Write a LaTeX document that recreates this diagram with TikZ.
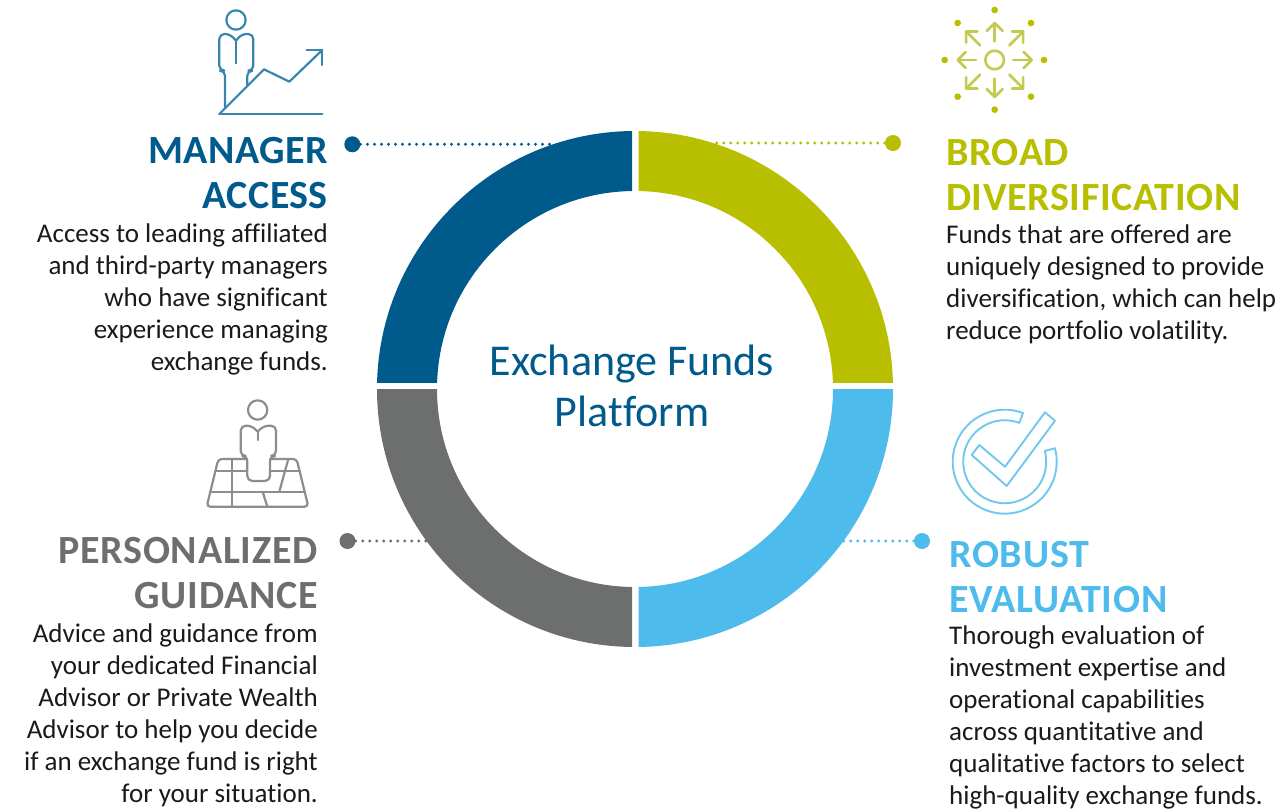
\documentclass[tikz,border=0pt]{standalone}
\usepackage{fontspec}
\setmainfont[Ligatures=NoCommon]{Carlito}
\definecolor{cblue}{HTML}{005A8C}
\definecolor{cgreen}{HTML}{B7BF00}
\definecolor{ccyan}{HTML}{4DBBEB}
\definecolor{cgray}{HTML}{6D6F6E}
\definecolor{ctext}{HTML}{1A1A1A}
\definecolor{iblue}{HTML}{3A85AD}
\definecolor{igreen}{HTML}{C3CA50}
\definecolor{igray}{HTML}{8C8E8D}
\definecolor{icyan}{HTML}{72C8EC}
\tikzset{
  head/.style={inner sep=0pt,font=\fontsize{40}{45}\selectfont\bfseries\addfontfeature{LetterSpace=#1}},
  head/.default=1,
  bodytext/.style={inner sep=0pt,text=ctext,font=\fontsize{27}{32}\selectfont},
  bigdot/.style={circle,inner sep=0pt,minimum size=16pt},
  dots/.style={line width=3.2pt,line cap=round,dash pattern=on 0pt off 7pt},
  iconline/.style={line width=2.2pt,line cap=round,line join=round},
}
\newcommand{\quadrant}[3]{%
  \begin{scope}
    \clip #1;
    \fill[#2,even odd rule] (635,389) circle[radius=258] (635,389) circle[radius=#3];
  \end{scope}}
\begin{document}
\begin{tikzpicture}[x=1pt,y=-1pt]
\useasboundingbox (0,0) rectangle (1278,809);
% ring
\quadrant{(370,120) rectangle (632,382)}{cblue}{198}
\quadrant{(638.5,120) rectangle (900,382)}{cgreen}{198}
\quadrant{(370,389) rectangle (632,655)}{cgray}{198}
\quadrant{(638.5,389) rectangle (900,655)}{ccyan}{198}
% centre
\node[inner sep=0pt,align=center,text=cblue,font=\fontsize{44}{51}\selectfont,anchor=center] (title) at (632,386) {Exchange Funds\\Platform};
% connectors
\node[bigdot,fill=cblue] (dotA) at (352.3,144.3) {};
\node[bigdot,fill=cgreen] (dotB) at (893,143) {};
\node[bigdot,fill=cgray] (dotC) at (347.5,541) {};
\node[bigdot,fill=ccyan] (dotD) at (922,541) {};
\coordinate (endA) at (552,144.3);
\coordinate (endB) at (715,143);
\coordinate (endC) at (428,541);
\coordinate (endD) at (843,541);
\draw[dots,cblue] (dotA) -- (endA);
\draw[dots,cgreen] (dotB) -- (endB);
\draw[dots,cgray] (dotC) -- (endC);
\draw[dots,ccyan] (dotD) -- (endD);
% headings
\node[head,text=cblue,align=right,anchor=north east] (hA) at (328,137) {MANAGER\\ACCESS};
\node[head=1.5,text=cgreen,align=left,anchor=north west] (hB) at (946,139) {BROAD\\DIVERSIFICATION};
\node[head=2,text=cgray,align=right,anchor=north east] (hC) at (318,537) {PERSONALIZED\\GUIDANCE};
\node[head=2,text=ccyan,align=left,anchor=north west] (hD) at (949,541) {ROBUST\\EVALUATION};
% body
\node[bodytext,align=right,anchor=north east] (bA) at (328,224) {Access to leading affiliated\\and third-party managers\\who have significant\\experience managing\\exchange funds.};
\node[bodytext,align=left,anchor=north west] (bB) at (946,225) {Funds that are offered are\\uniquely designed to provide\\diversification, which can help\\reduce portfolio volatility.};
\node[bodytext,align=right,anchor=north east] (bC) at (318,624) {Advice and guidance from\\your dedicated Financial\\Advisor or Private Wealth\\Advisor to help you decide\\if an exchange fund is right\\for your situation.};
\node[bodytext,align=left,anchor=north west] (bD) at (949,625.5) {Thorough evaluation of\\investment expertise and\\operational capabilities\\across quantitative and\\qualitative factors to select\\high-quality exchange funds.};
% icon: manager
\begin{scope}[shift={(190,0)},x=0.3333pt,y=-0.3333pt,iconline,draw=iblue]
  \draw (138,60) circle[radius=29];
  \draw[rounded corners=5pt] (105,322) -- (105,212) -- (88,212) -- (88,102) -- (120,102) -- (138,122);
  \draw[rounded corners=5pt] (172,258) -- (172,212) -- (190,212) -- (190,102) -- (155,102) -- (138,122);
  \draw (138,122) -- (138,190);
  \draw (88,342) -- (222,208) -- (298,245) -- (397,150);
  \draw (350,150) -- (397,150) -- (397,195);
  \draw (88,342) -- (397,342);
\end{scope}
% icon: diversification
\begin{scope}[shift={(930,0)},x=0.3333pt,y=-0.3333pt,iconline,line width=2.6pt,draw=igreen]
  \draw (194,180) circle[radius=28];
  \foreach \a/\ra/\rb in {0/56/111,90/56/111,180/56/111,270/56/111,45/62/121,135/62/121,225/62/121,315/62/121}{
    \begin{scope}[shift={(194,180)},rotate=\a]
      \draw (\ra,0) -- (\rb,0);
      \draw ({\rb-24},-24) -- (\rb,0) -- ({\rb-24},24);
    \end{scope}
  }
  \foreach \p in {(194,30),(303,69),(342,180),(303,290),(194,329),(83,290),(44,180),(83,69)}{
    \fill[cgreen] \p circle[radius=10];
  }
\end{scope}
% icon: map
\begin{scope}[shift={(190,395)},x=0.3333pt,y=-0.3333pt,iconline,draw=igray]
  \draw (203,45) circle[radius=29];
  \draw[rounded corners=5pt] (203,110) -- (185,92) -- (152,92) -- (152,183) -- (172,183) -- (172,258) -- (240,258) -- (240,183) -- (258,183) -- (258,92) -- (222,92) -- (203,110);
  \draw (203,110) -- (203,135);
  \draw[rounded corners=3.5pt] (172,192) -- (85,192) -- (50,335) -- (355,335) -- (320,192) -- (240,192);
  \draw (76,227) -- (172,227) (240,227) -- (329,227);
  \draw (60,290) -- (345,290);
  \draw (125,192) -- (125,335);
  \draw (295,192) -- (268,290);
  \draw (218,290) -- (232,335);
\end{scope}
% icon: check
\begin{scope}[line width=1.9pt,line join=round,draw=icyan]
  \draw (1023,413) arc[start angle=-69.4,end angle=-375,radius=52] -- (1044.8,451) arc[start angle=-375,end angle=-69.4,radius=41.5] -- cycle;
  \draw (979.3,445) -- (1005,466.7) -- (1045,412.3) -- (1055,420.7) -- (1006.7,486) -- (971.7,455) -- cycle;
\end{scope}
\end{tikzpicture}
\end{document}
